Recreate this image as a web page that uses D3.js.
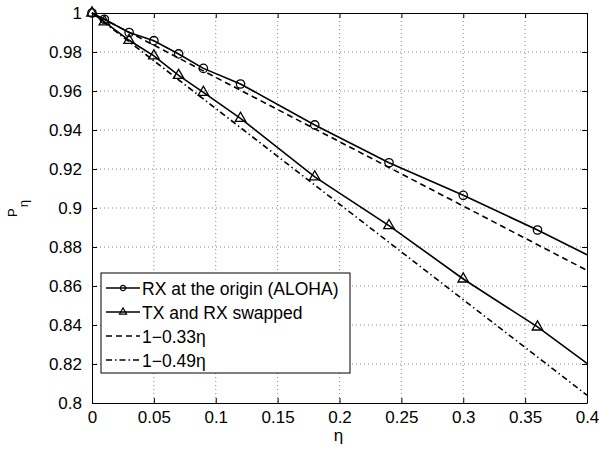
<!DOCTYPE html>
<html>
<head>
<meta charset="utf-8">
<script src="https://cdn.jsdelivr.net/npm/d3@7"></script>
<style>
  body { margin: 0; background: #fff; }
  svg text { font-family: "Liberation Sans", Arial, sans-serif; fill: #000; }
</style>
</head>
<body>
<svg id="chart" width="599" height="449"></svg>
<script>
// values
const etaAloha = [0, 0.01, 0.03, 0.05, 0.07, 0.09, 0.12, 0.18, 0.24, 0.3, 0.36, 0.4]
const pAloha   = [1, 0.9968, 0.990, 0.9858, 0.979, 0.9716, 0.9636, 0.9426, 0.9232, 0.9065, 0.8887, 0.876]
const etaSwap  = [0, 0.01, 0.03, 0.05, 0.07, 0.09, 0.12, 0.18, 0.24, 0.3, 0.36, 0.4]
const pSwap    = [1, 0.9955, 0.986, 0.978, 0.968, 0.9593, 0.946, 0.916, 0.891, 0.8636, 0.839, 0.8203]
// the two reference lines, end points
const etaLine  = [0, 0.4]
const pLine33  = [1, 0.868]
const pLine49  = [1, 0.804]
// markers are drawn on all points but the last one
const markedCount = 11

const xTicks = [0, 0.05, 0.1, 0.15, 0.2, 0.25, 0.3, 0.35, 0.4]
const yTicks = [0.8, 0.82, 0.84, 0.86, 0.88, 0.9, 0.92, 0.94, 0.96, 0.98, 1]
const legendLabels = ["RX at the origin (ALOHA)", "TX and RX swapped", "1\u22120.33\u03b7", "1\u22120.49\u03b7"]

const pl = 92, pr = 587, pt = 13, pb = 403

const svg = d3.select("#chart")

const x = d3.scaleLinear().domain([0, 0.4]).range([pl, pr])
const y = d3.scaleLinear().domain([0.8, 1]).range([pb, pt])

// grid
const grid = svg.append("g")
grid.selectAll(".gx")
  .data(xTicks.slice(1, -1))
  .enter().append("line")
  .attr("x1", d => x(d)).attr("x2", d => x(d))
  .attr("y1", pt).attr("y2", pb)
  .attr("stroke", "#888").attr("stroke-dasharray", "1,3")
grid.selectAll(".gy")
  .data(yTicks.slice(1, -1))
  .enter().append("line")
  .attr("x1", pl).attr("x2", pr)
  .attr("y1", d => y(d)).attr("y2", d => y(d))
  .attr("stroke", "#888").attr("stroke-dasharray", "1,3")

// axes, ticks inward on all four sides
const fmt = d => String(+d.toFixed(2))
const xAxis = d3.axisBottom(x).tickValues(xTicks).tickSizeInner(-5).tickSizeOuter(0).tickPadding(8).tickFormat(fmt)
const yAxis = d3.axisLeft(y).tickValues(yTicks).tickSizeInner(-5).tickSizeOuter(0).tickPadding(10).tickFormat(fmt)

svg.append("g").attr("transform", `translate(0,${pb})`).call(xAxis)
svg.append("g").attr("transform", `translate(${pl},0)`).call(yAxis)
svg.append("g").attr("transform", `translate(0,${pt})`)
  .call(d3.axisTop(x).tickValues(xTicks).tickSizeInner(-5).tickSizeOuter(0).tickFormat(""))
svg.append("g").attr("transform", `translate(${pr},0)`)
  .call(d3.axisRight(y).tickValues(yTicks).tickSizeInner(-5).tickSizeOuter(0).tickFormat(""))

svg.selectAll(".domain").attr("stroke", "#000").attr("stroke-width", 1)
svg.selectAll(".tick line").attr("stroke", "#000")
svg.selectAll(".tick text").style("font-size", "17px").style("font-family", "Liberation Sans, Arial, sans-serif")

// lines
const line = d3.line().x(d => x(d[0])).y(d => y(d[1]))
const zip = (a, b) => a.map((v, i) => [v, b[i]])

svg.append("path").datum(zip(etaLine, pLine33)).attr("d", line)
  .attr("fill", "none").attr("stroke", "#000").attr("stroke-width", 1.6)
  .attr("stroke-dasharray", "6,4")
svg.append("path").datum(zip(etaLine, pLine49)).attr("d", line)
  .attr("fill", "none").attr("stroke", "#000").attr("stroke-width", 1.6)
  .attr("stroke-dasharray", "6,3,1.5,3")
svg.append("path").datum(zip(etaAloha, pAloha)).attr("d", line)
  .attr("fill", "none").attr("stroke", "#000").attr("stroke-width", 1.6)
svg.append("path").datum(zip(etaSwap, pSwap)).attr("d", line)
  .attr("fill", "none").attr("stroke", "#000").attr("stroke-width", 1.6)

const circleSym = d3.symbol().type(d3.symbolCircle).size(55)
const triSym = d3.symbol().type(d3.symbolTriangle).size(48)

svg.append("g").selectAll("path")
  .data(zip(etaAloha, pAloha).slice(0, markedCount))
  .enter().append("path")
  .attr("d", circleSym)
  .attr("transform", d => `translate(${x(d[0])},${y(d[1])})`)
  .attr("fill", "none").attr("stroke", "#000").attr("stroke-width", 1.3)
svg.append("g").selectAll("path")
  .data(zip(etaSwap, pSwap).slice(0, markedCount))
  .enter().append("path")
  .attr("d", triSym)
  .attr("transform", d => `translate(${x(d[0])},${y(d[1])})`)
  .attr("fill", "none").attr("stroke", "#000").attr("stroke-width", 1.3)

// axis labels
svg.append("text")
  .attr("x", (pl + pr) / 2 - 1).attr("y", 441)
  .attr("text-anchor", "middle")
  .style("font-size", "17px")
  .text("\u03b7")

const yl = svg.append("text")
  .attr("transform", "translate(17,217) rotate(-90)")
  .style("font-size", "13px")
yl.append("tspan").text("P")
yl.append("tspan").attr("dx", 1).attr("dy", 11).style("font-size", "13px").text("\u03b7")

// legend
const lg = svg.append("g").attr("transform", "translate(101,273)")
lg.append("rect").attr("width", 249).attr("height", 100)
  .attr("fill", "#fff").attr("stroke", "#000").attr("stroke-width", 1)
const rows = [15, 39, 63, 87]
const dashes = [null, null, "6,4", "6,3,1.5,3"]
legendLabels.forEach((lab, i) => {
  lg.append("line")
    .attr("x1", 5).attr("x2", 39).attr("y1", rows[i]).attr("y2", rows[i])
    .attr("stroke", "#000").attr("stroke-width", 1.6)
    .attr("stroke-dasharray", dashes[i])
  if (i === 0) {
    lg.append("path").attr("d", d3.symbol().type(d3.symbolCircle).size(22))
      .attr("transform", `translate(22,${rows[i]})`)
      .attr("fill", "none").attr("stroke", "#000").attr("stroke-width", 1.2)
  }
  if (i === 1) {
    lg.append("path").attr("d", d3.symbol().type(d3.symbolTriangle).size(22))
      .attr("transform", `translate(22,${rows[i]})`)
      .attr("fill", "none").attr("stroke", "#000").attr("stroke-width", 1.2)
  }
  lg.append("text")
    .attr("x", 41).attr("y", rows[i] + 6.5)
    .style("font-size", "17.5px")
    .text(lab)
})
</script>
</body>
</html>
